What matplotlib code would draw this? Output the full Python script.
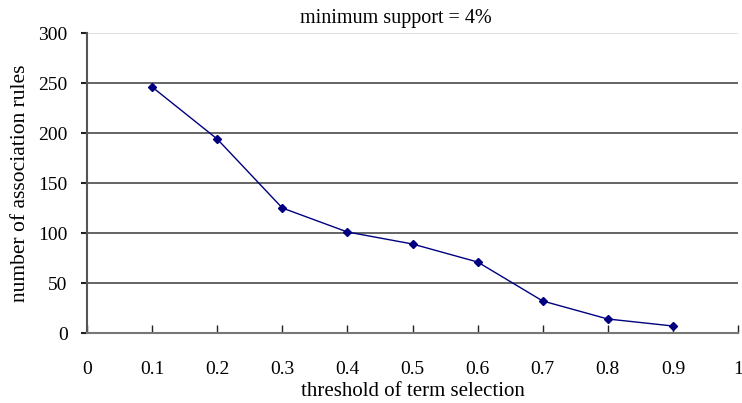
import numpy as np
import matplotlib.pyplot as plt
from matplotlib.ticker import MultipleLocator

plt.rcParams['font.family'] = ['Liberation Serif', 'DejaVu Serif']

# values
threshold = [0.1, 0.2, 0.3, 0.4, 0.5, 0.6, 0.7, 0.8, 0.9]
num_rules = [246, 194, 125, 101, 89, 71, 32, 14, 7]
x_ticks = [0, 0.1, 0.2, 0.3, 0.4, 0.5, 0.6, 0.7, 0.8, 0.9, 1]
x_tick_labels = ['0', '0.1', '0.2', '0.3', '0.4', '0.5', '0.6', '0.7', '0.8', '0.9', '1']
y_ticks = [0, 50, 100, 150, 200, 250, 300]

fig = plt.figure(figsize=(7.42, 4.03), dpi=100)
ax = fig.add_axes([87/742, 70/403, 651/742, 300/403])

# gridlines: top one light, rest dark
for yv in y_ticks[1:]:
    col = '#d8d8d8' if yv == 300 else '#3a3a3a'
    ax.axhline(yv, color=col, lw=1.1, zorder=1)

ax.plot(threshold, num_rules, color='#000080', lw=1.0, marker='D', ms=4.5,
        markerfacecolor='#000080', markeredgecolor='#000080', zorder=3)

ax.set_xlim(0, 1)
ax.set_ylim(0, 300)
ax.set_xticks(x_ticks)
ax.set_xticklabels(x_tick_labels)
ax.set_yticks(y_ticks)

for s in ['top', 'right']:
    ax.spines[s].set_visible(False)
ax.spines['left'].set_color('#555555')
ax.spines['bottom'].set_color('#777777')
ax.spines['left'].set_linewidth(1.5)
ax.spines['bottom'].set_linewidth(1.5)

ax.tick_params(axis='x', direction='in', length=6, width=1, color='#222222',
               labelsize=14, pad=20)
ax.tick_params(axis='y', direction='out', length=4, width=1.5, color='#222222',
               labelsize=14, pad=10)

ax.set_xlabel('threshold of term selection', fontsize=15, labelpad=3)
ax.set_ylabel('number of association rules', fontsize=15.5, labelpad=6)
fig.text(396/742, 1 - 18/403, 'minimum support = 4%', fontsize=14.5,
         ha='center', va='center')

fig.savefig('out.png', dpi=100)
